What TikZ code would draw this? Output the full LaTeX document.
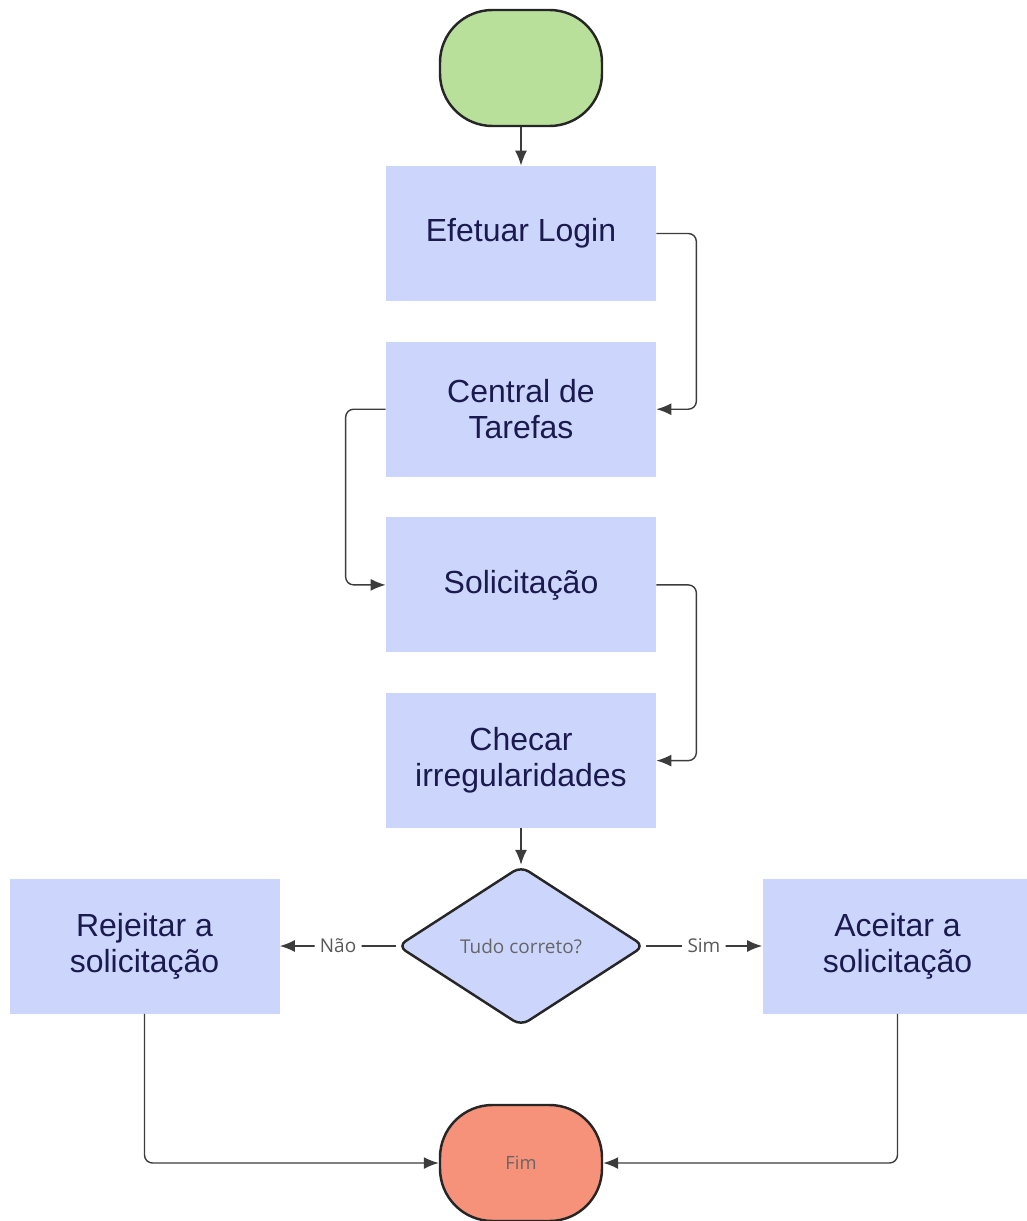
\documentclass[tikz,border=0pt]{standalone}
\usepackage{fontspec}
\setmainfont{Open Sans}
\newfontfamily\boxfont{Liberation Sans}
\usepackage{tikz}
\usetikzlibrary{arrows.meta,positioning,shapes.geometric}
\definecolor{startgreen}{RGB}{185,224,155}
\definecolor{endred}{RGB}{246,145,122}
\definecolor{boxblue}{RGB}{204,214,252}
\definecolor{boxtext}{RGB}{26,26,78}
\definecolor{edgegray}{RGB}{60,60,60}
\tikzset{
  % start / end terminals
  terminal/.style = {draw=black!85, line width=1.4pt, rounded corners=1.05cm,
    minimum width=3.24cm, minimum height=2.32cm, inner sep=0pt,
    font=\fontsize{10.4}{12}\selectfont, text=black!60},
  % a process step
  procbox/.style  = {fill=boxblue, minimum width=5.4cm, minimum height=2.7cm,
    inner sep=2pt, align=center, text=boxtext,
    font=\boxfont\fontsize{18.2}{20.4}\selectfont},
  % the decision
  decision/.style = {diamond, draw=black!85, fill=boxblue, line width=1.4pt,
    rounded corners=0.18cm, minimum width=4.94cm, minimum height=3.2cm,
    inner sep=0pt, text=black!60, font=\fontsize{10.8}{12}\selectfont},
  % connectors
  flowedge/.style = {draw=edgegray, line width=0.8pt, rounded corners=0.16cm,
    -{Latex[length=0.3cm,width=0.24cm]}},
  % label on a connector
  elabel/.style   = {fill=white, inner sep=3pt, text=black!65,
    font=\fontsize{10.8}{12}\selectfont},
}

\begin{document}
\begin{tikzpicture}
  \useasboundingbox (0,0) rectangle (20.52,-24.42);
  % terminals
  \node[terminal, fill=startgreen] (start) at (10.42,-1.36) {};
  \node[terminal, fill=endred] (fim) at (10.42,-23.26) {Fim};
  % main column
  \node[procbox] (login) at (10.42,-4.67) {Efetuar Login};
  \node[procbox, below=0.8cm of login] (central) {Central de\\Tarefas};
  \node[procbox, below=0.8cm of central] (solic) {Solicitação};
  \node[procbox, below=0.8cm of solic] (checar) {Checar\\irregularidades};
  \node[decision] (tudo) at (10.42,-18.92) {Tudo correto?};
  % the two outcomes
  \node[procbox] (rejeitar) at (2.89,-18.92) {Rejeitar a\\solicitação};
  \node[procbox] (aceitar) at (17.95,-18.92) {Aceitar a\\solicitação};

  \draw[flowedge] (start) -- (login);
  \draw[flowedge] (login.east) -- ++(0.8,0) |- (central.east);
  \draw[flowedge] (central.west) -- ++(-0.8,0) |- (solic.west);
  \draw[flowedge] (solic.east) -- ++(0.8,0) |- (checar.east);
  \draw[flowedge] (checar) -- (tudo);
  \draw[flowedge] (tudo.west) -- node[elabel] {Não} (rejeitar.east);
  \draw[flowedge] (tudo.east) -- node[elabel] {Sim} (aceitar.west);
  \draw[flowedge] (rejeitar.south) |- (fim.west);
  \draw[flowedge] (aceitar.south) |- (fim.east);
\end{tikzpicture}
\end{document}
